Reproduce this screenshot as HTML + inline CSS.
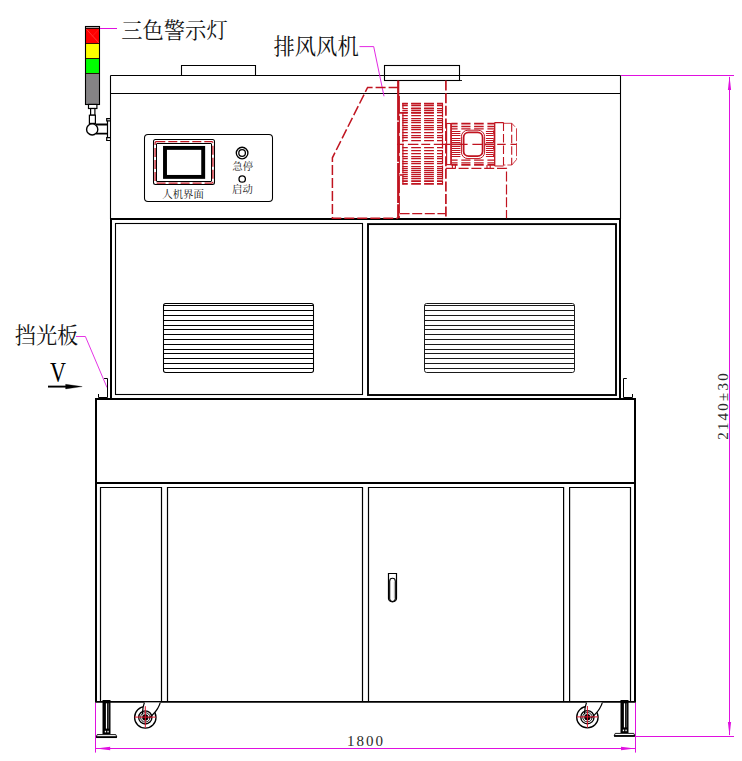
<!DOCTYPE html>
<html lang="zh">
<head>
<meta charset="utf-8">
<title>设备正视图</title>
<style>
html,body{margin:0;padding:0;background:#fff;}
body{width:742px;height:761px;overflow:hidden;font-family:"Liberation Sans",sans-serif;}
svg{display:block;}
text{font-family:"Liberation Serif","Noto Serif CJK SC",serif;}
</style>
</head>
<body>
<svg width="742" height="761" viewBox="0 0 742 761">
<rect x="0" y="0" width="742" height="761" fill="#fff"/>
<line x1="110.5" y1="75.5" x2="620.5" y2="75.5" stroke="#000" stroke-width="1.1" />
<line x1="110.5" y1="93.5" x2="620.5" y2="93.5" stroke="#000" stroke-width="1.1" />
<line x1="110.5" y1="75.5" x2="110.5" y2="219.0" stroke="#000" stroke-width="1.1" />
<line x1="620.5" y1="75.5" x2="620.5" y2="219.0" stroke="#000" stroke-width="1.1" />
<path d="M181.5 75.5V65.5H255.5V75.5" fill="none" stroke="#000" stroke-width="1.1" />
<rect x="384.5" y="65.5" width="75.0" height="15.0" rx="0" fill="none" stroke="#000" stroke-width="1.1" />
<line x1="459.5" y1="80.5" x2="462" y2="80.5" stroke="#000" stroke-width="0.9" />
<rect x="85.5" y="26.5" width="14.0" height="78.0" rx="0" fill="#858385" stroke="#000" stroke-width="1" />
<rect x="86" y="28.5" width="13" height="15" fill="#ff0000"/>
<rect x="86" y="43.5" width="13" height="15" fill="#ffff00"/>
<rect x="86" y="58.5" width="13" height="15" fill="#00ff00"/>
<rect x="86" y="27" width="13" height="1" fill="#b8a8a8"/>
<line x1="86.4" y1="29.2" x2="99" y2="43" stroke="#ff5050" stroke-width="0.7" />
<line x1="99" y1="29.2" x2="92" y2="36.5" stroke="#ff3030" stroke-width="0.5" />
<path d="M85.5 28.5H99.5M85.5 43.5H99.5M85.5 58.5H99.5M85.5 73.5H99.5" fill="none" stroke="#200" stroke-width="0.9" />
<rect x="85.5" y="26.5" width="14.0" height="78.0" rx="0" fill="none" stroke="#000" stroke-width="1.1" />
<rect x="88.5" y="104.4" width="8.4" height="4.1" rx="0" fill="#fff" stroke="#000" stroke-width="1.2" />
<rect x="90.6" y="108.5" width="4.3" height="6.7" rx="0" fill="#fff" stroke="#000" stroke-width="1.2" />
<rect x="89.4" y="115.2" width="6.0" height="8.2" rx="0" fill="#fff" stroke="#000" stroke-width="1.2" />
<path d="M96 124.5H107M96 133.6H107" fill="none" stroke="#000" stroke-width="1.8" />
<circle cx="92.2" cy="129.4" r="5.6" fill="#fff" stroke="#000" stroke-width="1.4" />
<path d="M110.5 118.6H106.7V120.9H110.5M110.5 137.6H106.7V140.5H110.5M107.5 120.9V137.6" fill="none" stroke="#000" stroke-width="1.2" />
<rect x="144.5" y="134.5" width="128.0" height="67.0" rx="3.5" fill="none" stroke="#000" stroke-width="1.05" />
<rect x="153.5" y="139.5" width="61.0" height="45.0" rx="2" fill="none" stroke="#000" stroke-width="1.05" />
<rect x="156.5" y="143.5" width="55.0" height="38.0" rx="0.5" fill="none" stroke="#000" stroke-width="1" />
<rect x="155.1" y="141.6" width="57.8" height="41.5" rx="1.2" fill="none" stroke="#c01420" stroke-width="1.25" stroke-dasharray="9 3"/>
<rect x="165.0" y="147.9" width="38.2" height="29.0" rx="0" fill="none" stroke="#000" stroke-width="3.9" />
<circle cx="242.1" cy="153.0" r="5.8" fill="none" stroke="#000" stroke-width="1.35" />
<circle cx="242.1" cy="153.0" r="3.3" fill="none" stroke="#000" stroke-width="1.3" />
<circle cx="242.2" cy="179.0" r="3.2" fill="none" stroke="#000" stroke-width="1.3" />
<text x="162.3" y="198.0" font-size="10.4" fill="#111" font-family="'Liberation Serif', 'Noto Serif CJK SC', serif">人机界面</text>
<text x="232.3" y="170.0" font-size="10.4" fill="#111" font-family="'Liberation Serif', 'Noto Serif CJK SC', serif">急停</text>
<text x="232.0" y="192.7" font-size="10.4" fill="#111" font-family="'Liberation Serif', 'Noto Serif CJK SC', serif">启动</text>
<text x="121.2" y="37.6" font-size="21.3" fill="#111" font-family="'Liberation Serif', 'Noto Serif CJK SC', serif">三色警示灯</text>
<line x1="100" y1="28.5" x2="117" y2="28.5" stroke="#e010e0" stroke-width="1" />
<text x="273.5" y="54.3" font-size="21.3" fill="#111" font-family="'Liberation Serif', 'Noto Serif CJK SC', serif">排风风机</text>
<path d="M359.5 46.6H373.7L384 96.3" fill="none" stroke="#e010e0" stroke-width="0.9" />
<text x="14.7" y="343.3" font-size="21.2" fill="#111" font-family="'Liberation Serif', 'Noto Serif CJK SC', serif">挡光板</text>
<path d="M76 336.5H85.4L107 387.5" fill="none" stroke="#e010e0" stroke-width="0.85" />
<path d="M111.0 399.0V219.0H620.0V399.0" fill="none" stroke="#000" stroke-width="2" />
<rect x="115.5" y="223.5" width="247.0" height="171.0" rx="0" fill="none" stroke="#000" stroke-width="1.1" />
<rect x="368.0" y="224.1" width="248.0" height="170.9" rx="0" fill="none" stroke="#000" stroke-width="1.9" />
<rect x="163.5" y="303.5" width="150.0" height="69.0" rx="2.2" fill="none" stroke="#000" stroke-width="1.05" />
<path d="M163.5 305.5H313.5M163.5 310.5H313.5M163.5 315.5H313.5M163.5 320.5H313.5M163.5 325.5H313.5M163.5 329.5H313.5M163.5 334.5H313.5M163.5 339.5H313.5M163.5 344.5H313.5M163.5 349.5H313.5M163.5 353.5H313.5M163.5 358.5H313.5M163.5 363.5H313.5M163.5 368.5H313.5" fill="none" stroke="#000" stroke-width="1.05" />
<rect x="424.5" y="303.5" width="150.0" height="69.0" rx="2.2" fill="none" stroke="#1a1a1a" stroke-width="1.0" />
<path d="M424.5 305.5H574.5M424.5 310.5H574.5M424.5 315.5H574.5M424.5 320.5H574.5M424.5 325.5H574.5M424.5 329.5H574.5M424.5 334.5H574.5M424.5 339.5H574.5M424.5 344.5H574.5M424.5 349.5H574.5M424.5 353.5H574.5M424.5 358.5H574.5M424.5 363.5H574.5M424.5 368.5H574.5" fill="none" stroke="#1a1a1a" stroke-width="1.0" />
<path d="M104.1 378.5H107.5V397.5H98.5V394" fill="none" stroke="#000" stroke-width="1" />
<path d="M626.8 378.5H623.5V397.5H632.5V394" fill="none" stroke="#000" stroke-width="1" />
<path d="M398.6 87.4H367.6L332.4 157.8V218.2H397.8" fill="none" stroke="#c01420" stroke-width="1.5" stroke-dasharray="10 3"/>
<line x1="398.2" y1="80.6" x2="398.2" y2="218.2" stroke="#c01420" stroke-width="2.2" stroke-dasharray="40 1.2"/>
<line x1="399.4" y1="96" x2="399.4" y2="218.2" stroke="#c01420" stroke-width="1.0" stroke-dasharray="17 3"/>
<line x1="445.9" y1="80.6" x2="445.9" y2="218.2" stroke="#c01420" stroke-width="1.7" stroke-dasharray="10 2.6"/>
<line x1="399.6" y1="213.6" x2="445.8" y2="213.6" stroke="#c01420" stroke-width="1.2" stroke-dasharray="10 2.6"/>
<path d="M402.3 103.5H407.8M411.2 103.5H420.9M424.1 103.5H433.9M437.0 103.5H443.0M402.3 105.5H407.8M411.2 105.5H420.9M424.1 105.5H433.9M437.0 105.5H443.0M402.3 108.5H407.8M411.2 108.5H420.9M424.1 108.5H433.9M437.0 108.5H443.0M402.3 110.5H407.8M411.2 110.5H420.9M424.1 110.5H433.9M437.0 110.5H443.0M402.3 112.5H407.8M411.2 112.5H420.9M424.1 112.5H433.9M437.0 112.5H443.0M402.3 115.5H407.8M411.2 115.5H420.9M424.1 115.5H433.9M437.0 115.5H443.0M402.3 118.5H407.8M411.2 118.5H420.9M424.1 118.5H433.9M437.0 118.5H443.0M402.3 120.5H407.8M411.2 120.5H420.9M424.1 120.5H433.9M437.0 120.5H443.0M402.3 122.5H407.8M411.2 122.5H420.9M424.1 122.5H433.9M437.0 122.5H443.0M402.3 125.5H407.8M411.2 125.5H420.9M424.1 125.5H433.9M437.0 125.5H443.0M402.3 127.5H407.8M411.2 127.5H420.9M424.1 127.5H433.9M437.0 127.5H443.0M402.3 129.5H407.8M411.2 129.5H420.9M424.1 129.5H433.9M437.0 129.5H443.0M402.3 132.5H407.8M411.2 132.5H420.9M424.1 132.5H433.9M437.0 132.5H443.0M402.3 135.5H407.8M411.2 135.5H420.9M424.1 135.5H433.9M437.0 135.5H443.0M402.3 137.5H407.8M411.2 137.5H420.9M424.1 137.5H433.9M437.0 137.5H443.0M402.3 140.5H407.8M411.2 140.5H420.9M424.1 140.5H433.9M437.0 140.5H443.0M402.3 147.5H407.8M411.2 147.5H420.9M424.1 147.5H433.9M437.0 147.5H443.0M402.3 150.5H407.8M411.2 150.5H420.9M424.1 150.5H433.9M437.0 150.5H443.0M402.3 153.5H407.8M411.2 153.5H420.9M424.1 153.5H433.9M437.0 153.5H443.0M402.3 156.5H407.8M411.2 156.5H420.9M424.1 156.5H433.9M437.0 156.5H443.0M402.3 158.5H407.8M411.2 158.5H420.9M424.1 158.5H433.9M437.0 158.5H443.0M402.3 161.5H407.8M411.2 161.5H420.9M424.1 161.5H433.9M437.0 161.5H443.0M402.3 163.5H407.8M411.2 163.5H420.9M424.1 163.5H433.9M437.0 163.5H443.0M402.3 166.5H407.8M411.2 166.5H420.9M424.1 166.5H433.9M437.0 166.5H443.0M402.3 168.5H407.8M411.2 168.5H420.9M424.1 168.5H433.9M437.0 168.5H443.0M402.3 170.5H407.8M411.2 170.5H420.9M424.1 170.5H433.9M437.0 170.5H443.0M402.3 172.5H407.8M411.2 172.5H420.9M424.1 172.5H433.9M437.0 172.5H443.0M402.3 174.5H407.8M411.2 174.5H420.9M424.1 174.5H433.9M437.0 174.5H443.0M402.3 176.5H407.8M411.2 176.5H420.9M424.1 176.5H433.9M437.0 176.5H443.0M402.3 178.5H407.8M411.2 178.5H420.9M424.1 178.5H433.9M437.0 178.5H443.0" fill="none" stroke="#c01420" stroke-width="1.25" />
<path d="M402.3 181.1H407.8M411.2 181.1H420.9M424.1 181.1H433.9M437.0 181.1H443.0M402.3 183.9H407.8M411.2 183.9H420.9M424.1 183.9H433.9M437.0 183.9H443.0" fill="none" stroke="#c01420" stroke-width="1.8" />
<path d="M411.2 108.3H420.9M424.1 108.3H433.9M411.2 112.9H420.9M424.1 112.9H433.9M402.3 103.6H407.8M411.2 103.6H420.9M424.1 103.6H433.9M437.0 103.6H443.0" fill="none" stroke="#c01420" stroke-width="1.7" />
<path d="M402.9 112.8V184.6M442.5 103.4V184.6" fill="none" stroke="#c01420" stroke-width="1.2" stroke-dasharray="14 1.5"/>
<path d="M402.9 103V108" fill="none" stroke="#c01420" stroke-width="1.2" />
<path d="M398.5 112.9H407.8" fill="none" stroke="#c01420" stroke-width="1.7" />
<path d="M399.4 175H402.6M397 144.4H403.9" fill="none" stroke="#c01420" stroke-width="1.3" />
<path d="M407.9 144.4H418.4M421.3 144.4H430.2M433.8 144.4H450.6" fill="none" stroke="#c01420" stroke-width="1.2" />
<rect x="446.6" y="123.5" width="4.3" height="41.1" rx="0" fill="none" stroke="#c01420" stroke-width="1.1" />
<line x1="451.2" y1="123" x2="451.2" y2="165.2" stroke="#c01420" stroke-width="1.3" />
<path d="M451.4 123.7H457.6M461.3 123.7H470.5M474.1 123.7H483.7M487.4 123.7H494.7M451.4 164.9H457.6M461.3 164.9H470.5M474.1 164.9H483.7M487.4 164.9H494.7" fill="none" stroke="#c01420" stroke-width="1.7" />
<path d="M451.4 126.5H457.6M461.3 126.5H470.5M474.1 126.5H483.7M487.4 126.5H494.7M451.4 128.8H457.6M461.3 128.8H470.5M474.1 128.8H483.7M487.4 128.8H494.7M451.4 160.1H457.6M461.3 160.1H470.5M474.1 160.1H483.7M487.4 160.1H494.7M451.4 162.8H457.6M461.3 162.8H470.5M474.1 162.8H483.7M487.4 162.8H494.7" fill="none" stroke="#c01420" stroke-width="1.3" />
<path d="M451.6 131.5H460.4M485.9 131.5H493.6M451.6 133.5H460.4M485.9 133.5H493.6M451.6 135.5H460.4M485.9 135.5H493.6M451.6 138.5H460.4M485.9 138.5H493.6M451.6 140.5H460.4M485.9 140.5H493.6M451.6 142.5H460.4M485.9 142.5H493.6M451.6 146.5H460.4M485.9 146.5H493.6M451.6 148.5H460.4M485.9 148.5H493.6M451.6 150.5H460.4M485.9 150.5H493.6M451.6 152.5H460.4M485.9 152.5H493.6M451.6 154.5H460.4M485.9 154.5H493.6M451.6 156.5H460.4M485.9 156.5H493.6" fill="none" stroke="#c01420" stroke-width="1.2" />
<path d="M493.4 130.5Q495.3 136.5 493.4 142.6M493.4 146Q495.3 151.5 493.4 157" fill="none" stroke="#c01420" stroke-width="1.2" />
<path d="M451.4 144.4H461.5M485 144.4H494.6" fill="none" stroke="#c01420" stroke-width="1.7" />
<rect x="461.4" y="130.2" width="23.2" height="28.4" rx="6.5" fill="none" stroke="#c01420" stroke-width="1.0" />
<rect x="463.6" y="132.3" width="19.0" height="23.9" rx="5" fill="none" stroke="#c01420" stroke-width="1.8" />
<path d="M459.8 144.4H467.6M472.4 144.4H482.2" fill="none" stroke="#c01420" stroke-width="1.1" />
<path d="M494.7 122.6H503.5M494.7 166H503.5" fill="none" stroke="#c01420" stroke-width="1.2" />
<path d="M503.5 123.3H511.8L516.5 128.4V159.6L511.8 165H503.5" fill="none" stroke="#d0404a" stroke-width="1.0" stroke-dasharray="13 2"/>
<line x1="494.7" y1="122.6" x2="494.7" y2="166" stroke="#c01420" stroke-width="1.3" />
<path d="M503.5 122.6V166M511.7 123.3V165" fill="none" stroke="#c01420" stroke-width="1.1" stroke-dasharray="8.5 3"/>
<path d="M497.2 144.4H505.7M510.5 144.4H516.4" fill="none" stroke="#c01420" stroke-width="1.1" />
<path d="M452.4 165V168.2M455.4 165V168.2M487 165V168.2M490.2 165V168.2" fill="none" stroke="#c01420" stroke-width="1.1" />
<path d="M445.8 168.3H506.5V218.2" fill="none" stroke="#c01420" stroke-width="1.2" stroke-dasharray="10 2.8"/>
<line x1="48" y1="386.6" x2="67" y2="386.6" stroke="#000" stroke-width="1.9" />
<path d="M65.6 384.3L82.2 386.6L65.6 388.9Z" fill="#000" stroke="#000" stroke-width="0.3" />
<text x="50" y="382" font-size="30" fill="#000" textLength="16" lengthAdjust="spacingAndGlyphs" font-family="'Liberation Serif', serif">V</text>
<path d="M96.0 701.8V399.0H635.0V701.8" fill="none" stroke="#000" stroke-width="2" />
<line x1="95.0" y1="483.0" x2="636.0" y2="483.0" stroke="#000" stroke-width="2" />
<line x1="95.0" y1="701.8" x2="636.0" y2="701.8" stroke="#000" stroke-width="1.8" />
<path d="M100.5 701.8V487.5H161.5V701.8" fill="none" stroke="#000" stroke-width="1.2" />
<path d="M167.5 701.8V487.5H362.5V701.8" fill="none" stroke="#000" stroke-width="1.2" />
<path d="M368.5 701.8V487.5H563.6V701.8" fill="none" stroke="#000" stroke-width="1.2" />
<path d="M569.6 701.8V487.5H630.5V701.8" fill="none" stroke="#000" stroke-width="1.2" />
<path d="M388.5 573.5H396.5V598.4A4 3.4 0 0 1 388.5 598.4Z" fill="none" stroke="#000" stroke-width="1.2" />
<path d="M389.7 581.2A2.8 2.9 0 0 1 395.3 581.2V598.8A2.8 2.7 0 0 1 389.7 598.8Z" fill="none" stroke="#000" stroke-width="1.1" />
<line x1="394.3" y1="582" x2="394.3" y2="598" stroke="#aaa" stroke-width="0.7" />
<rect x="102.5" y="700.0" width="8.0" height="34.2" fill="#000"/>
<rect x="105.9" y="703.3" width="1.2" height="25.3" fill="#fff"/>
<rect x="108.4" y="703.3" width="0.7" height="25.3" fill="#777"/>
<rect x="104.8" y="730.8" width="1.3" height="1.6" fill="#fff"/>
<rect x="107.4" y="730.8" width="1.3" height="1.6" fill="#fff"/>
<path d="M97.2 734.6H115.8L116.8 737.0H96.2Z" fill="#fff" stroke="#000" stroke-width="0.9" />
<line x1="96.1" y1="737.2" x2="116.9" y2="737.2" stroke="#000" stroke-width="1.7" />
<rect x="620.5" y="700.0" width="8.0" height="33.0" fill="#000"/>
<rect x="623.9" y="703.3" width="1.2" height="24.1" fill="#fff"/>
<rect x="626.4" y="703.3" width="0.7" height="24.1" fill="#777"/>
<rect x="622.8" y="729.6" width="1.3" height="1.6" fill="#fff"/>
<rect x="625.4" y="729.6" width="1.3" height="1.6" fill="#fff"/>
<path d="M615.2 733.4H633.8L634.8 735.8H614.2Z" fill="#fff" stroke="#000" stroke-width="0.9" />
<line x1="614.1" y1="736.0" x2="634.9" y2="736.0" stroke="#000" stroke-width="1.7" />
<circle cx="145.3" cy="717.4" r="10.7" fill="#fff" stroke="#000" stroke-width="1.3" />
<path d="M144.4 702.6L143.10000000000002 707.2L142.3 714.4L145.3 717.4L148.9 718.3C153.3 714.4 155.8 711.9 157.70000000000002 708.4C158.9 706.1999999999999 159.9 704.4 160.20000000000002 702.6Z" fill="#fff" stroke="none" stroke-width="0" />
<path d="M144.4 702.6L143.10000000000002 707.2L142.3 714.4" fill="none" stroke="#000" stroke-width="1.2" />
<path d="M148.9 718.3C153.3 714.4 155.8 711.9 157.70000000000002 708.4C158.9 706.1999999999999 159.9 704.4 160.20000000000002 702.6" fill="none" stroke="#000" stroke-width="1.2" />
<circle cx="145.3" cy="717.4" r="6.6" fill="none" stroke="#000" stroke-width="1.35" />
<circle cx="145.3" cy="717.4" r="4.7" fill="none" stroke="#000" stroke-width="0.9" />
<circle cx="145.3" cy="717.4" r="2.9" fill="#000" stroke="#000" stroke-width="0.7" />
<line x1="134.70000000000002" y1="717.1" x2="155.9" y2="717.1" stroke="#e0142c" stroke-width="1.0" />
<line x1="145.3" y1="706.1999999999999" x2="145.3" y2="727.8" stroke="#e0142c" stroke-width="1.0" />
<circle cx="587.4" cy="717.2" r="10.7" fill="#fff" stroke="#000" stroke-width="1.3" />
<path d="M586.5 702.6L585.1999999999999 707.2L584.4 714.2L587.4 717.2L591.0 718.1C595.4 714.2 597.9 711.7 599.8 708.2C601.0 706.0 602.0 704.2 602.3 702.6Z" fill="#fff" stroke="none" stroke-width="0" />
<path d="M586.5 702.6L585.1999999999999 707.2L584.4 714.2" fill="none" stroke="#000" stroke-width="1.2" />
<path d="M591.0 718.1C595.4 714.2 597.9 711.7 599.8 708.2C601.0 706.0 602.0 704.2 602.3 702.6" fill="none" stroke="#000" stroke-width="1.2" />
<circle cx="587.4" cy="717.2" r="6.6" fill="none" stroke="#000" stroke-width="1.35" />
<circle cx="587.4" cy="717.2" r="4.7" fill="none" stroke="#000" stroke-width="0.9" />
<circle cx="587.4" cy="717.2" r="2.9" fill="#000" stroke="#000" stroke-width="0.7" />
<line x1="576.8" y1="716.9000000000001" x2="598.0" y2="716.9000000000001" stroke="#e0142c" stroke-width="1.0" />
<line x1="587.4" y1="706.0" x2="587.4" y2="727.6" stroke="#e0142c" stroke-width="1.0" />
<line x1="621" y1="75.5" x2="734" y2="75.5" stroke="#e010e0" stroke-width="1" />
<line x1="636" y1="736.5" x2="734" y2="736.5" stroke="#e010e0" stroke-width="1" />
<line x1="729.5" y1="77" x2="729.5" y2="735" stroke="#e010e0" stroke-width="1" />
<path d="M729.5 76L727.9 90H731.1Z" fill="#e010e0" stroke="none" stroke-width="0" />
<path d="M729.5 736L727.9 722H731.1Z" fill="#e010e0" stroke="none" stroke-width="0" />
<line x1="95.5" y1="702.8" x2="95.5" y2="752.6" stroke="#e010e0" stroke-width="1" />
<line x1="635.5" y1="702.8" x2="635.5" y2="752.6" stroke="#e010e0" stroke-width="1" />
<line x1="96" y1="748.5" x2="635" y2="748.5" stroke="#e010e0" stroke-width="1" />
<path d="M96 748.5L110.2 746.7V750.3Z" fill="#e010e0" stroke="none" stroke-width="0" />
<path d="M635 748.5L621 746.7V750.3Z" fill="#e010e0" stroke="none" stroke-width="0" />
<text x="347" y="745.9" font-size="15" fill="#2a2a2a" textLength="36" lengthAdjust="spacing" font-family="'Liberation Sans', sans-serif">1800</text>
<text transform="translate(727.6 439.8) rotate(-90)" x="0" y="0" font-size="15" fill="#2a2a2a" textLength="66.5" lengthAdjust="spacing" font-family="'Liberation Sans', sans-serif">2140±30</text>
</svg>
</body>
</html>
